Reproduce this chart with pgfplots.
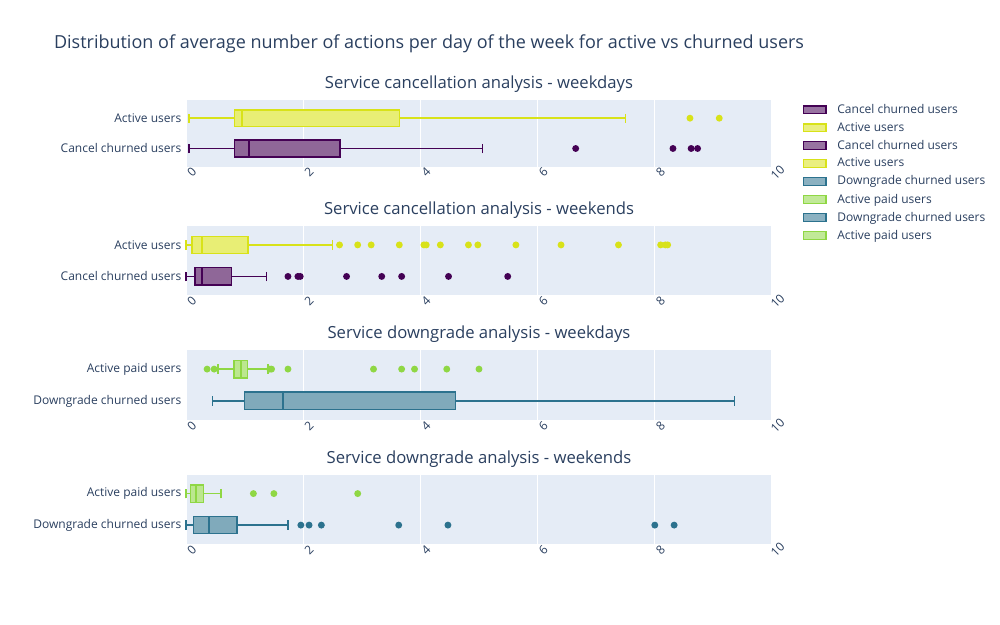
\documentclass[border=0pt]{standalone}
\usepackage{pgfplots}
\pgfplotsset{compat=1.18}
\usepgfplotslibrary{statistics}
\usepackage{fontspec}
\setmainfont{Open Sans}
\definecolor{txt}{HTML}{2A3F5F}
\definecolor{bg}{HTML}{E5ECF6}
\definecolor{cy}{HTML}{D8E219}
\definecolor{cp}{HTML}{440154}
\definecolor{cg}{HTML}{8FD744}
\definecolor{ct}{HTML}{2C728E}
\pgfplotsset{
  panel/.style={scale only axis, width=439.5pt, height=50pt, anchor=north west,
    xmin=0, xmax=10, ymin=0.4, ymax=2.6, axis background/.style={fill=bg},
    axis line style={draw=none}, tick style={draw=none},
    xmajorgrids, major grid style={white, line width=0.8pt},
    xtick={0,2,...,10}, ytick={1,2},
    ticklabel style={font=\fontsize{9}{10}\selectfont, text=txt},
    xticklabel style={rotate=45, anchor=center, yshift=-6pt},
    /pgf/number format/assume math mode=true,
    title style={font=\fontsize{12.5}{14}\selectfont, text=txt, yshift=-4pt},
    boxplot/draw direction=x, boxplot/box extend=0.55, boxplot/whisker extend=0.3,
    boxplot/every whisker/.style={line width=1.1pt},
    boxplot/every median/.style={line width=1.4pt},
    clip=false},
  bx/.style={solid, draw=#1, fill=#1!60!white, line width=1.1pt, mark=*, mark size=2pt,
    mark options={fill=#1, draw=#1}},
}
\begin{document}
\begin{tikzpicture}
\path[use as bounding box] (0,0) rectangle (750pt,-468.75pt);
\node[anchor=west, text=txt, font=\fontsize{13.5}{15}\selectfont] at (37pt,-33pt) {Distribution of average number of actions per day of the week for active vs churned users};

\begin{axis}[panel, at={(139.5pt,-75pt)}, title={Service cancellation analysis - weekdays},
  yticklabels={Cancel churned users, Active users},
  legend style={at={(1.045,1.02)}, anchor=north west, draw=none, fill=none,
    font=\fontsize{9}{10}\selectfont, text=txt, row sep=1.2pt,
    nodes={inner xsep=8pt}},
  legend cell align=left]
\addlegendimage{area legend, draw=cp, fill=cp!55!white, line width=1pt}
\addlegendentry{Cancel churned users}
\addlegendimage{area legend, draw=cy, fill=cy!55!white, line width=1pt}
\addlegendentry{Active users}
\addlegendimage{area legend, draw=cp, fill=cp!55!white, line width=1pt}
\addlegendentry{Cancel churned users}
\addlegendimage{area legend, draw=cy, fill=cy!55!white, line width=1pt}
\addlegendentry{Active users}
\addlegendimage{area legend, draw=ct, fill=ct!55!white, line width=1pt}
\addlegendentry{Downgrade churned users}
\addlegendimage{area legend, draw=cg, fill=cg!55!white, line width=1pt}
\addlegendentry{Active paid users}
\addlegendimage{area legend, draw=ct, fill=ct!55!white, line width=1pt}
\addlegendentry{Downgrade churned users}
\addlegendimage{area legend, draw=cg, fill=cg!55!white, line width=1pt}
\addlegendentry{Active paid users}
\addplot[bx=cp, forget plot, boxplot prepared={draw position=1, lower whisker=0.05, lower quartile=0.83, median=1.08, upper quartile=2.63, upper whisker=5.06}]
  table[row sep=\\, y index=0] {6.65\\ 8.31\\ 8.62\\ 8.73\\};
\addplot[bx=cy, forget plot, boxplot prepared={draw position=2, lower whisker=0.05, lower quartile=0.83, median=0.95, upper quartile=3.64, upper whisker=7.5}]
  table[row sep=\\, y index=0] {8.6\\ 9.1\\};
\end{axis}

\begin{axis}[panel, at={(139.5pt,-169.5pt)}, height=52pt, title={Service cancellation analysis - weekends},
  yticklabels={Cancel churned users, Active users}]
\addplot[bx=cp, boxplot prepared={draw position=1, lower whisker=0.0, lower quartile=0.15, median=0.28, upper quartile=0.78, upper whisker=1.37}]
  table[row sep=\\, y index=0] {1.74\\ 1.91\\ 1.95\\ 2.74\\ 3.34\\ 3.68\\ 4.48\\ 5.49\\};
\addplot[bx=cy, boxplot prepared={draw position=2, lower whisker=0.0, lower quartile=0.1, median=0.27, upper quartile=1.06, upper whisker=2.5}]
  table[row sep=\\, y index=0] {2.62\\ 2.93\\ 3.16\\ 3.64\\ 4.06\\ 4.1\\ 4.34\\ 4.82\\ 4.98\\ 5.63\\ 6.4\\ 7.38\\ 8.1\\ 8.18\\ 8.22\\};
\end{axis}

\begin{axis}[panel, at={(139.5pt,-262.5pt)}, height=52.5pt, title={Service downgrade analysis - weekdays},
  yticklabels={Downgrade churned users, Active paid users}]
\addplot[bx=ct, boxplot prepared={draw position=1, lower whisker=0.45, lower quartile=1.0, median=1.65, upper quartile=4.6, upper whisker=9.36}]
  table[row sep=\\, y index=0] {20\\};
\addplot[bx=cg, boxplot prepared={draw position=2, lower whisker=0.55, lower quartile=0.82, median=0.94, upper quartile=1.05, upper whisker=1.4}]
  table[row sep=\\, y index=0] {0.36\\ 0.48\\ 1.43\\ 1.46\\ 1.74\\ 3.2\\ 3.68\\ 3.9\\ 4.45\\ 5.0\\};
\end{axis}

\begin{axis}[panel, at={(139.5pt,-356pt)}, height=52pt, title={Service downgrade analysis - weekends},
  yticklabels={Downgrade churned users, Active paid users}]
\addplot[bx=ct, boxplot prepared={draw position=1, lower whisker=0.0, lower quartile=0.13, median=0.39, upper quartile=0.87, upper whisker=1.74}]
  table[row sep=\\, y index=0] {1.96\\ 2.1\\ 2.31\\ 3.63\\ 4.47\\ 8.0\\ 8.33\\};
\addplot[bx=cg, boxplot prepared={draw position=2, lower whisker=0.0, lower quartile=0.08, median=0.17, upper quartile=0.3, upper whisker=0.6}]
  table[row sep=\\, y index=0] {1.15\\ 1.5\\ 2.93\\};
\end{axis}
\end{tikzpicture}
\end{document}
